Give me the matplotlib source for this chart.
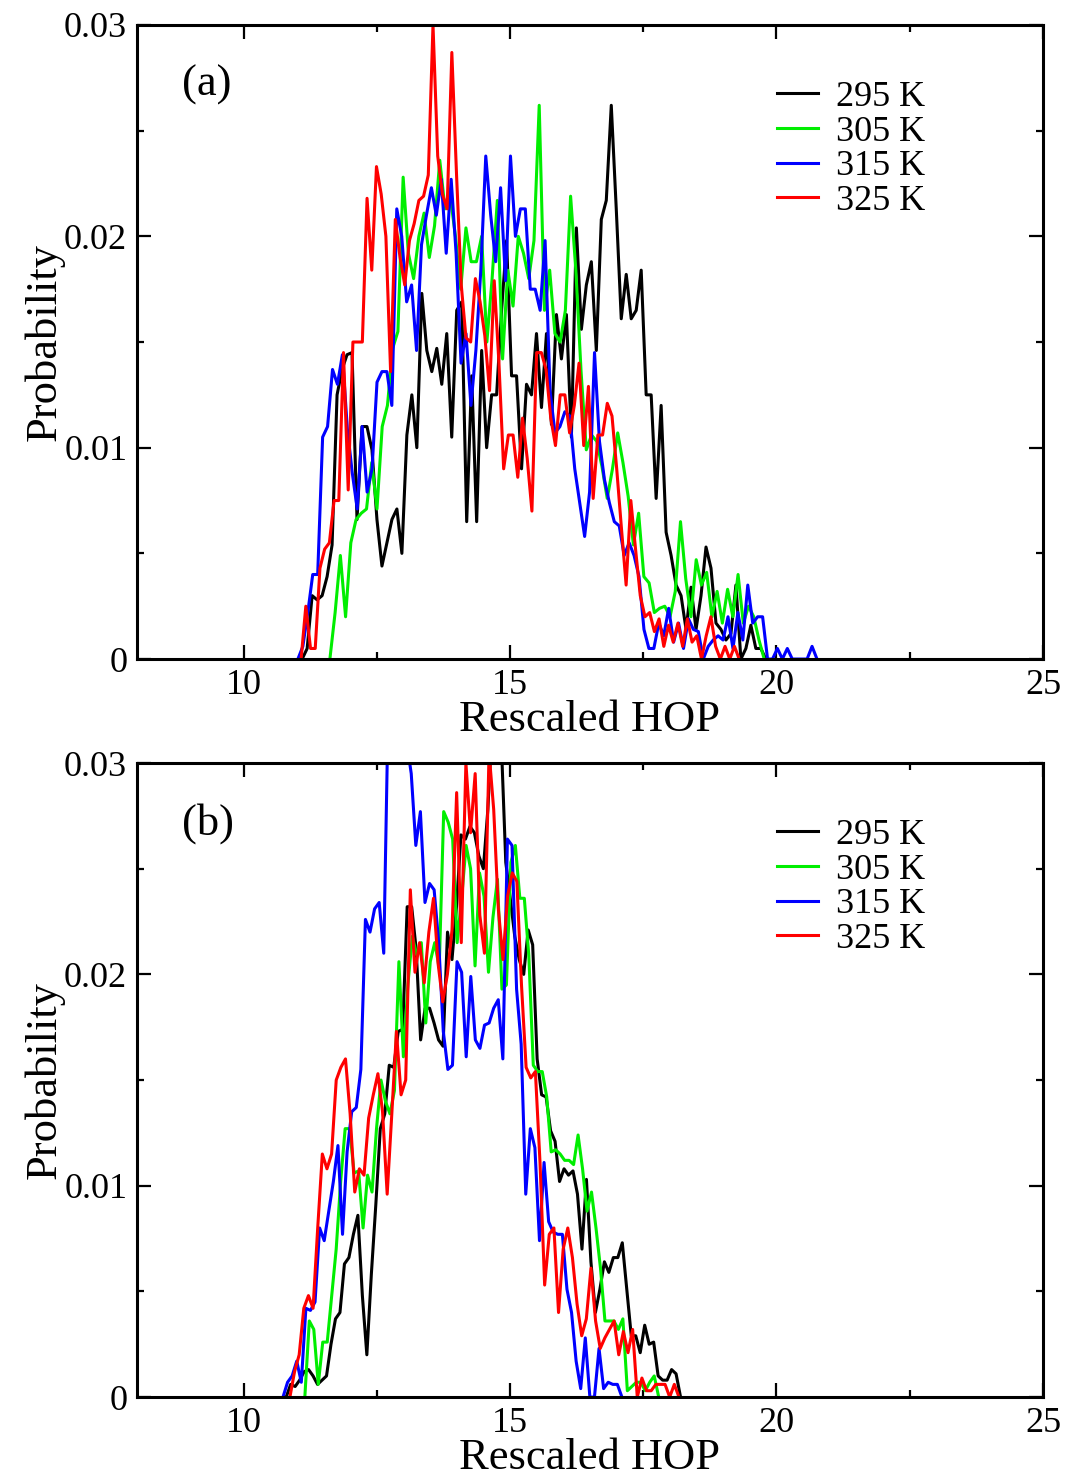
import numpy as np
import matplotlib
matplotlib.use("Agg")
import matplotlib.pyplot as plt
from matplotlib.ticker import MultipleLocator, FixedLocator, FixedFormatter

plt.rcParams['font.family'] = ['Liberation Serif', 'DejaVu Serif']

labels = ["295 K", "305 K", "315 K", "325 K"]
colors = ["#000000", "#00ee00", "#0000ff", "#ff0000"]

# panel (a): x range (first, last bin) and probabilities
a_range = [(11.1, 19.8), (11.62, 19.77), (11.02, 20.76), (11.08, 19.3)]
a_295 = [0, 0.0005, 0.003, 0.0028, 0.003, 0.0039, 0.0054, 0.0125, 0.0137, 0.0144, 0.0145, 0.0066, 0.011, 0.011,
         0.0099, 0.0066, 0.0044, 0.0055, 0.0066, 0.0071, 0.005, 0.0106, 0.0125, 0.010, 0.0173, 0.0146, 0.0136,
         0.0147, 0.013, 0.0154, 0.0105, 0.0165, 0.0169, 0.0065, 0.0134, 0.0065, 0.0146, 0.010, 0.0125, 0.0125,
         0.0165, 0.0198, 0.0134, 0.0134, 0.009, 0.013, 0.0125, 0.0154, 0.0119, 0.0154, 0.0111, 0.0163, 0.0142,
         0.0163, 0.0105, 0.0204, 0.0156, 0.0177, 0.0188, 0.0146, 0.0208, 0.0217, 0.0262, 0.0213, 0.0161, 0.0182,
         0.0161, 0.0165, 0.0184, 0.0125, 0.0125, 0.0076, 0.012, 0.006, 0.0049, 0.0035, 0.003, 0.0014, 0.0034,
         0.0014, 0.003, 0.0053, 0.0043, 0.0017, 0.0014, 0.0009, 0.0012, 0.0035, 0, 0.0005, 0.0016, 0.0005,
         0.0005, 0]
a_305 = [0, 0.0022, 0.0049, 0.002, 0.0055, 0.0066, 0.0069, 0.0071, 0.0093, 0.0071, 0.011, 0.012, 0.0147, 0.0155,
         0.0228, 0.0192, 0.018, 0.020, 0.0211, 0.019, 0.0205, 0.0236, 0.0213, 0.0219, 0.020, 0.0175, 0.0204,
         0.0188, 0.0188, 0.020, 0.015, 0.018, 0.0217, 0.0142, 0.0184, 0.0167, 0.020, 0.0192, 0.018, 0.0198,
         0.0262, 0.0165, 0.0184, 0.0154, 0.015, 0.0165, 0.0219, 0.0184, 0.0136, 0.0099, 0.0106, 0.0103, 0.0091,
         0.0076, 0.009, 0.0107, 0.0093, 0.0077, 0.0054, 0.0069, 0.0039, 0.0036, 0.0022, 0.0024, 0.0025, 0.002,
         0.0032, 0.0065, 0.0038, 0.002, 0.0047, 0.0035, 0.0041, 0.002, 0.0032, 0.0017, 0.0033, 0.002, 0.004,
         0.0017, 0.0025, 0.002, 0.0009, 0]
a_315 = [0, 0.0006, 0.0022, 0.004, 0.004, 0.0105, 0.011, 0.0137, 0.013, 0.0144, 0.0109, 0.0088, 0.0071, 0.011,
         0.0079, 0.009, 0.0131, 0.0136, 0.0136, 0.012, 0.0213, 0.020, 0.0169, 0.0177, 0.0146, 0.0196, 0.021,
         0.0223, 0.021, 0.0227, 0.0192, 0.0227, 0.0192, 0.014, 0.0154, 0.012, 0.0146, 0.0184, 0.0238, 0.021,
         0.0188, 0.0223, 0.0179, 0.0238, 0.020, 0.0213, 0.0213, 0.0175, 0.0175, 0.0165, 0.0198, 0.0127, 0.0107,
         0.011, 0.0117, 0.0115, 0.009, 0.0074, 0.0058, 0.0079, 0.0145, 0.0103, 0.0085, 0.0074, 0.0065, 0.0063,
         0.0049, 0.0055, 0.0049, 0.0039, 0.0014, 0.0005, 0.0005, 0.0017, 0.0011, 0.0024, 0.0008, 0.0017, 0.0005,
         0.0019, 0.0014, 0.0013, 0, 0.0006, 0.0009, 0.0011, 0.0009, 0.002, 0.0005, 0.0022, 0.0009, 0.0035,
         0.0017, 0.002, 0.002, 0, 0, 0.0005, 0, 0.0005, 0, 0, 0, 0, 0.0006, 0]
a_325 = [0, 0.0025, 0.0005, 0.0005, 0.0043, 0.0052, 0.0055, 0.0075, 0.0075, 0.0145, 0.008, 0.015, 0.015, 0.015,
         0.0218, 0.0184, 0.0233, 0.022, 0.020, 0.0136, 0.0208, 0.019, 0.0177, 0.0198, 0.0206, 0.0217, 0.0219,
         0.0229, 0.030, 0.0238, 0.022, 0.0213, 0.0287, 0.0229, 0.0177, 0.0152, 0.015, 0.018, 0.0169, 0.0153,
         0.0127, 0.0179, 0.014, 0.009, 0.0106, 0.0106, 0.0086, 0.0114, 0.0095, 0.007, 0.0145, 0.0145, 0.0137,
         0.0114, 0.0101, 0.0125, 0.0125, 0.0107, 0.012, 0.014, 0.0101, 0.0129, 0.0076, 0.0106, 0.0106, 0.0121,
         0.0115, 0.009, 0.0062, 0.0035, 0.0075, 0.0052, 0.003, 0.002, 0.0022, 0.0013, 0.0019, 0.0006, 0.0016,
         0.0008, 0.0017, 0.0006, 0.0019, 0.0008, 0.0011, 0, 0.0011, 0.002, 0.0006, 0, 0.0006, 0, 0.0006, 0]

# panel (b)
b_range = [(10.8, 18.2), (11.15, 17.79), (10.74, 17.1), (10.87, 18.17)]
b_295 = [0, 0.0006, 0.0005, 0.0008, 0.0012, 0.0013, 0.001, 0.0006, 0.0008, 0.001, 0.0025, 0.0037, 0.004, 0.0063,
         0.0066, 0.0077, 0.0086, 0.0048, 0.002, 0.0058, 0.0091, 0.0127, 0.0134, 0.0157, 0.0156, 0.0173, 0.0174,
         0.0232, 0.0232, 0.0212, 0.0169, 0.0184, 0.0184, 0.0177, 0.0169, 0.0166, 0.022, 0.0207, 0.0232, 0.0266,
         0.0264, 0.027, 0.0267, 0.0256, 0.025, 0.0278, 0.032, 0.033, 0.031, 0.0253, 0.0236, 0.0218, 0.0207, 0.020,
         0.0221, 0.0214, 0.016, 0.0143, 0.0142, 0.0126, 0.0121, 0.0102, 0.0108, 0.0105, 0.0107, 0.0096, 0.007,
         0.0103, 0.0064, 0.004, 0.0051, 0.0064, 0.0059, 0.0066, 0.0066, 0.0073, 0.0051, 0.0029, 0.0029, 0.0021,
         0.0034, 0.0025, 0.0026, 0.001, 0.0008, 0.0008, 0.0013, 0.0011, 0]
b_305 = [0, 0.0036, 0.0032, 0.0006, 0.0026, 0.0026, 0.0048, 0.007, 0.0102, 0.0127, 0.0127, 0.0106, 0.0107, 0.008,
         0.0105, 0.0097, 0.0127, 0.015, 0.014, 0.0134, 0.0145, 0.0206, 0.0161, 0.0195, 0.0218, 0.0209, 0.0215,
         0.0177, 0.0206, 0.0215, 0.0203, 0.0277, 0.0272, 0.0264, 0.0215, 0.0236, 0.0261, 0.025, 0.0204, 0.0248,
         0.0237, 0.0201, 0.0227, 0.0245, 0.0193, 0.0195, 0.0253, 0.0261, 0.0236, 0.0236, 0.0209, 0.0157, 0.0154,
         0.0154, 0.0142, 0.0116, 0.0117, 0.0115, 0.0112, 0.0112, 0.011, 0.0124, 0.0108, 0.0088, 0.0097, 0.008,
         0.0061, 0.0036, 0.0036, 0.0036, 0.0032, 0.0037, 0.0003, 0.0005, 0.0007, 0.0007, 0.0003, 0.0007, 0.001, 0]
b_315 = [0, 0.0007, 0.001, 0.0017, 0.0007, 0.0042, 0.0041, 0.0045, 0.008, 0.0074, 0.0088, 0.0102, 0.0119, 0.0077,
         0.0116, 0.0135, 0.0137, 0.0155, 0.0226, 0.022, 0.0231, 0.0234, 0.021, 0.033, 0.036, 0.035, 0.033, 0.031,
         0.0295, 0.0261, 0.0277, 0.0234, 0.0243, 0.024, 0.0215, 0.0173, 0.0155, 0.0157, 0.0206, 0.0201, 0.0161,
         0.0199, 0.0169, 0.0165, 0.0176, 0.0177, 0.0184, 0.0188, 0.016, 0.0264, 0.0261, 0.0193, 0.0167, 0.0096,
         0.0127, 0.0118, 0.0074, 0.0111, 0.0083, 0.0078, 0.0077, 0.0077, 0.0051, 0.004, 0.0017, 0.0004, 0.0028,
         0, 0, 0.0023, 0.0004, 0.0007, 0.0006, 0.0006, 0]
b_325 = [0, 0.0012, 0.002, 0.0042, 0.0048, 0.0042, 0.008, 0.0115, 0.0108, 0.0115, 0.015, 0.0156, 0.016, 0.0134,
         0.0097, 0.0108, 0.0105, 0.0132, 0.0143, 0.0153, 0.0135, 0.0096, 0.0134, 0.0173, 0.0143, 0.015, 0.024,
         0.0201, 0.0215, 0.0196, 0.022, 0.0236, 0.0205, 0.0187, 0.020, 0.0221, 0.0286, 0.0215, 0.030, 0.0267,
         0.0295, 0.0228, 0.021, 0.0305, 0.0278, 0.0231, 0.0207, 0.0237, 0.0248, 0.0244, 0.0195, 0.0156, 0.0151,
         0.0154, 0.0111, 0.0053, 0.0077, 0.008, 0.004, 0.007, 0.008, 0.0066, 0.0044, 0.0029, 0.0037, 0.0061,
         0.0036, 0.0023, 0.0028, 0.0032, 0.0036, 0.002, 0.0031, 0.0021, 0.0032, 0, 0.0009, 0.0003, 0.0003,
         0.0006, 0.0006, 0.0006, 0, 0.0006, 0]

panels = [("(a)", a_range, [a_295, a_305, a_315, a_325]),
          ("(b)", b_range, [b_295, b_305, b_315, b_325])]

fig = plt.figure(figsize=(10.65, 14.79), dpi=100)
boxes = [[0.1286, 0.5544, 0.8507, 0.4287], [0.1286, 0.0554, 0.8507, 0.4287]]

for box, (tag, ranges, series) in zip(boxes, panels):
    ax = fig.add_axes(box)
    for (x0, x1), y, c, lab in zip(ranges, series, colors, labels):
        x = np.linspace(x0, x1, len(y))
        ax.plot(x, y, color=c, lw=2.2, label=lab)

    ax.set_xlim(8, 25)
    ax.set_ylim(0, 0.03)
    ax.xaxis.set_major_locator(FixedLocator([10, 15, 20, 25]))
    ax.xaxis.set_minor_locator(FixedLocator([12.5, 17.5, 22.5]))
    ax.yaxis.set_major_locator(FixedLocator([0, 0.01, 0.02, 0.03]))
    ax.yaxis.set_major_formatter(FixedFormatter(["0", "0.01", "0.02", "0.03"]))
    ax.yaxis.set_minor_locator(MultipleLocator(0.005))
    ax.tick_params(which="both", direction="in", top=True, right=True, width=1.6, labelsize=26)
    ax.tick_params(which="major", length=10, pad=7)
    ax.tick_params(which="minor", length=5)
    for s in ax.spines.values():
        s.set_linewidth(2.2)

    ax.set_xlabel("Rescaled HOP", fontsize=32)
    ax.set_ylabel("Probability", fontsize=32)
    ax.xaxis.set_label_coords(0.5, -0.065)
    ax.yaxis.set_label_coords(-0.08, 0.5)

    ax.text(0.05, 0.905, tag, transform=ax.transAxes, fontsize=32, va="center", ha="left")
    ax.legend(loc="upper left", bbox_to_anchor=(0.69, 0.935), frameon=False, fontsize=26,
              handlelength=1.15, handletextpad=0.5, labelspacing=0.04, borderaxespad=0)

fig.savefig("out.png", dpi=100)
